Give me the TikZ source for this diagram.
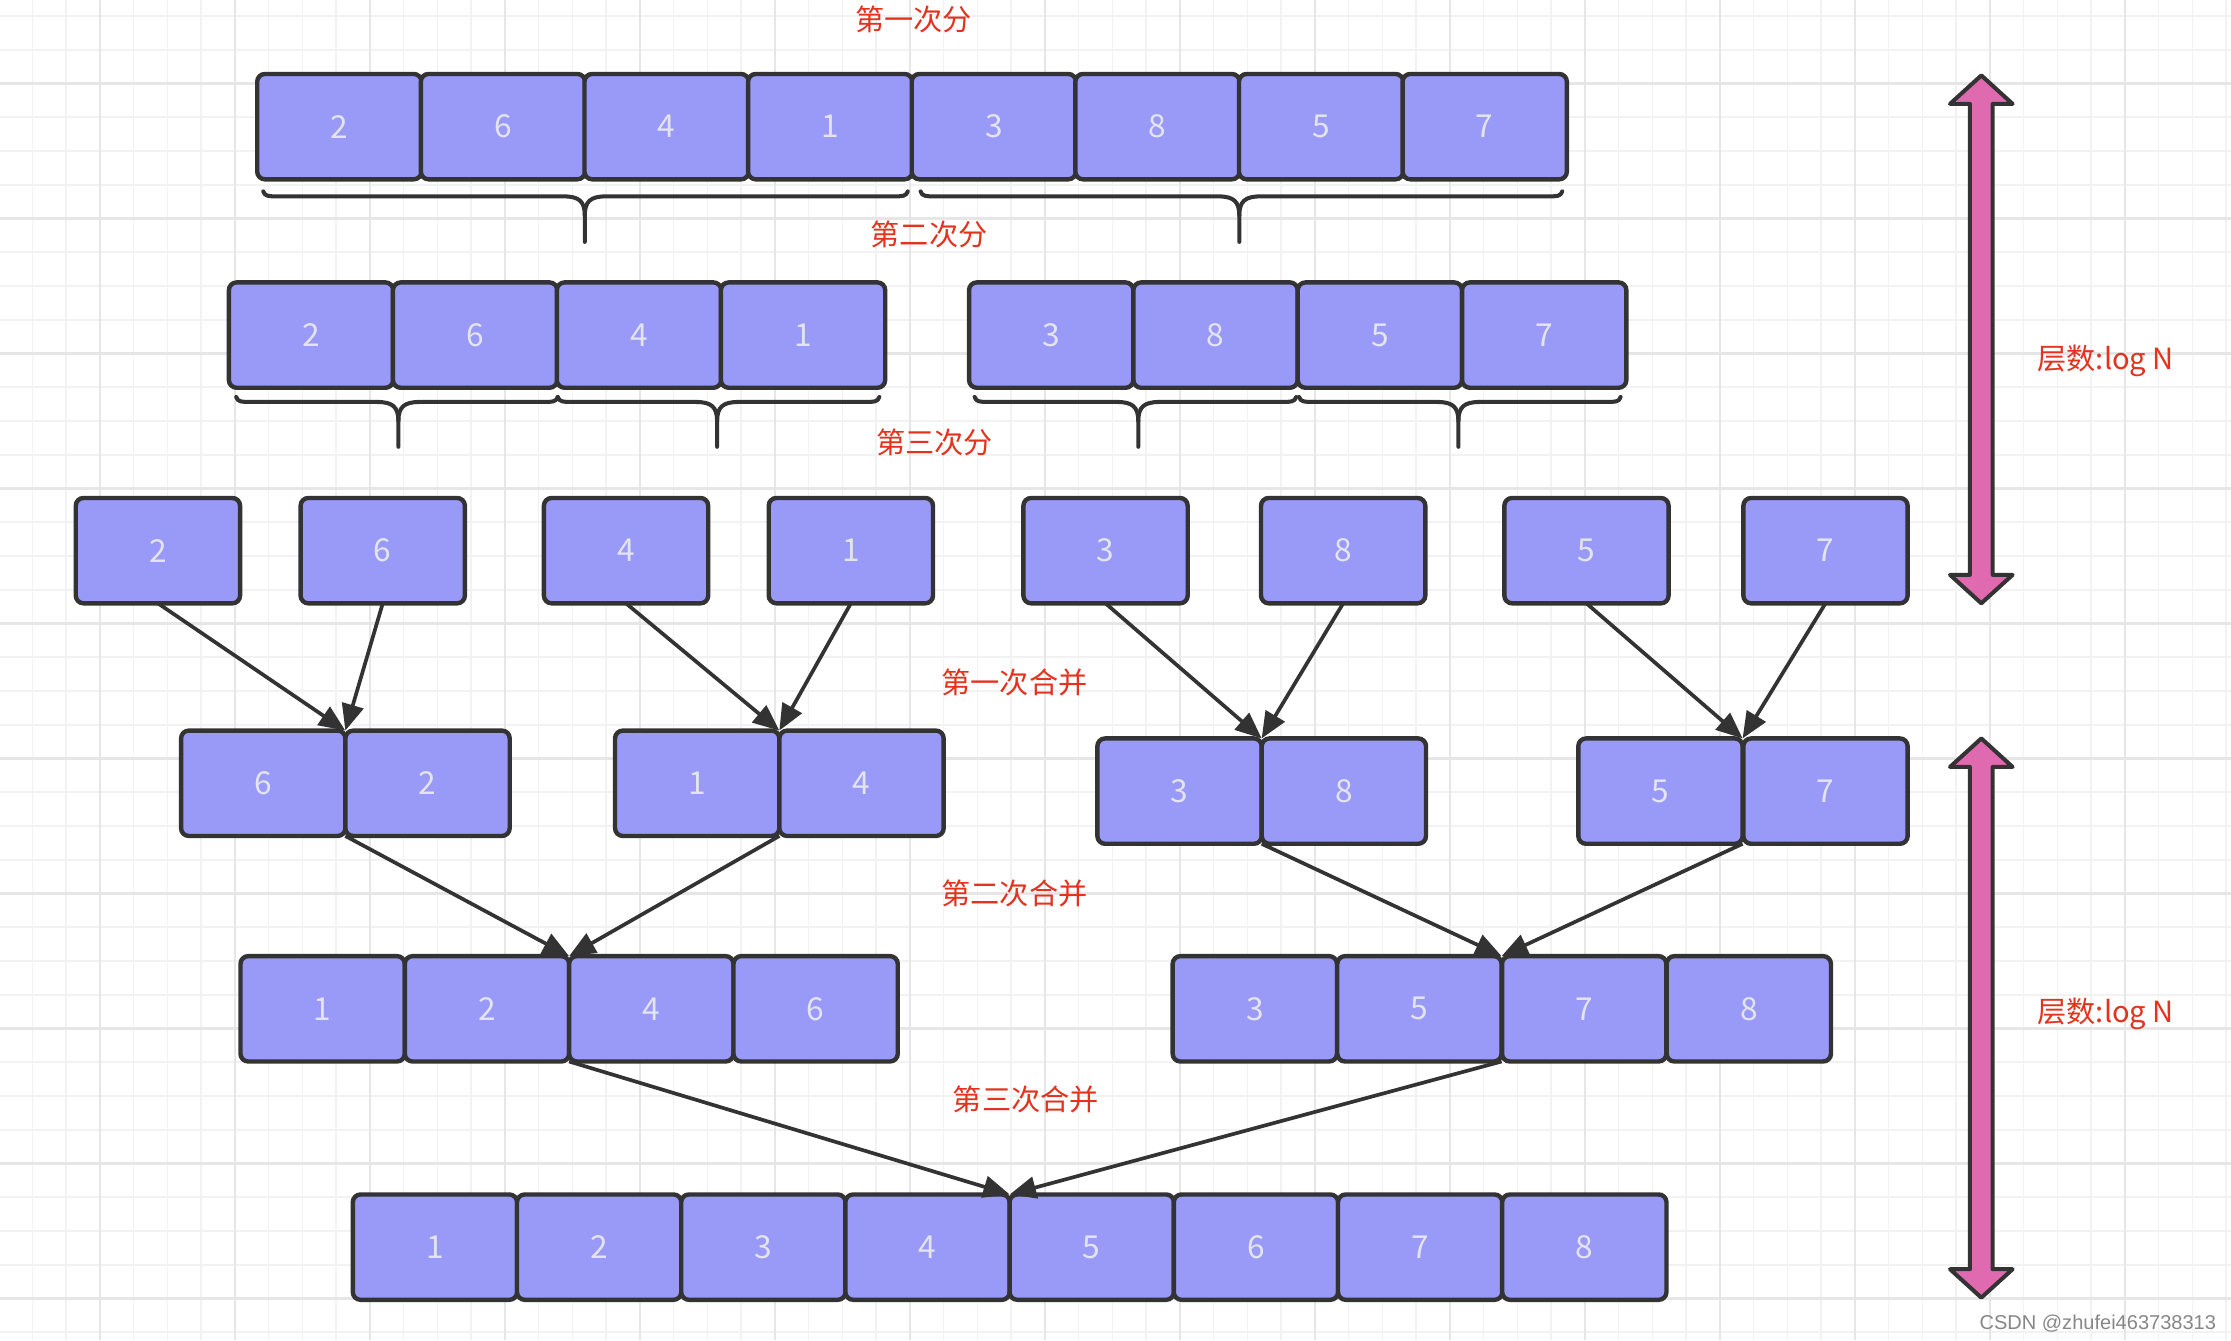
\documentclass[tikz,border=0pt]{standalone}
\usepackage{fontspec}
\setmainfont{Noto Sans CJK SC}
\newfontfamily\wmfont{Liberation Sans}
\usetikzlibrary{arrows.meta}
\definecolor{cellfill}{RGB}{153,153,248}
\definecolor{celltext}{RGB}{228,228,236}
\definecolor{ink}{RGB}{51,51,51}
\definecolor{labred}{RGB}{228,50,30}
\definecolor{pinkarrow}{RGB}{224,106,176}
\definecolor{gridminor}{RGB}{242,242,242}
\definecolor{gridmajor}{RGB}{230,230,230}
\definecolor{wmgray}{RGB}{135,135,135}
\newcommand\mybrace[5]{%
  \draw[bracestyle] (#1,#4) .. controls (#1+1,#4+3.5) and (#1+4,#4+3.5) .. (#1+10,#4+3.5)
     -- (#3-15,#4+3.5) .. controls (#3-4,#4+3.5) and (#3,#4+7) .. (#3,#4+17) -- (#3,#5);
  \draw[bracestyle] (#2,#4) .. controls (#2-1,#4+3.5) and (#2-4,#4+3.5) .. (#2-10,#4+3.5)
     -- (#3+15,#4+3.5) .. controls (#3+4,#4+3.5) and (#3,#4+7) .. (#3,#4+17);
}
\newcommand\dblarrow[3]{%
  \draw[dblstyle] (#1,#2) -- (#1+22,#2+20) -- (#1+8,#2+20) -- (#1+8,#3-20) -- (#1+22,#3-20)
    -- (#1,#3) -- (#1-22,#3-20) -- (#1-8,#3-20) -- (#1-8,#2+20) -- (#1-22,#2+20) -- cycle;
}
\begin{document}
\begin{tikzpicture}[x=0.014228cm, y=-0.014228cm,
  cell/.style={draw=ink, fill=cellfill, line width=1.25pt, rounded corners=2.2pt,
    minimum width=1.642cm, minimum height=1.053cm, inner sep=0pt, outer sep=0pt,
    text=celltext, font=\fontsize{9}{10}\selectfont},
  lab/.style={text=labred, font=\fontsize{8.3}{10}\selectfont, inner sep=0pt,
    text height=6.6pt, text depth=1.2pt},
  merge/.style={draw=ink, line width=1.05pt, -{Triangle[length=7.5pt,width=6.2pt]}},
  bracestyle/.style={draw=ink, line width=1.15pt, line cap=round, line join=round},
  dblstyle/.style={draw=ink, fill=pinkarrow, line width=1.15pt, line join=round}
]
\useasboundingbox (0,0) rectangle (1568,942);
\fill[white] (0,0) rectangle (1568,942);
% grid
\foreach \i in {0,...,65} \draw[gridminor, line width=0.45pt] ({22.7+23.72*\i},0) -- ({22.7+23.72*\i},942);
\foreach \i in {0,...,39} \draw[gridminor, line width=0.45pt] (0,{11.25+23.72*\i}) -- (1568,{11.25+23.72*\i});
\foreach \i in {0,...,15} \draw[gridmajor, line width=0.6pt] ({70.14+94.88*\i},0) -- ({70.14+94.88*\i},942);
\foreach \i in {0,...,9} \draw[gridmajor, line width=0.6pt] (0,{58.7+94.88*\i}) -- (1568,{58.7+94.88*\i});

% row 1
\node[cell] (a1) at (238.5,89) {2};
\node[cell] (a2) at (353.5,89) {6};
\node[cell] (a3) at (468.5,89) {4};
\node[cell] (a4) at (583.5,89) {1};
\node[cell] (a5) at (698.5,89) {3};
\node[cell] (a6) at (813.5,89) {8};
\node[cell] (a7) at (928.5,89) {5};
\node[cell] (a8) at (1043.5,89) {7};
\mybrace{185}{638}{411}{134.5}{170}
\mybrace{647}{1098}{871}{134.5}{170}

% row 2
\node[cell] (b1) at (218.6,235.5) {2};
\node[cell] (b2) at (333.9,235.5) {6};
\node[cell] (b3) at (449.1,235.5) {4};
\node[cell] (b4) at (564.4,235.5) {1};
\node[cell] (b5) at (738.8,235.5) {3};
\node[cell] (b6) at (854.3,235.5) {8};
\node[cell] (b7) at (969.8,235.5) {5};
\node[cell] (b8) at (1085.3,235.5) {7};
\mybrace{166}{392}{280}{279}{314}
\mybrace{392}{618}{504}{279}{314}
\mybrace{685}{911}{800}{279}{314}
\mybrace{913}{1139}{1025}{279}{314}

% row 3
\node[cell] (c1) at (111,387) {2};
\node[cell] (c2) at (269,387) {6};
\node[cell] (c3) at (440,387) {4};
\node[cell] (c4) at (598,387) {1};
\node[cell] (c5) at (777,387) {3};
\node[cell] (c6) at (944,387) {8};
\node[cell] (c7) at (1115,387) {5};
\node[cell] (c8) at (1283,387) {7};

% row 4
\node[cell] (d1) at (185,550.5) {6};
\node[cell] (d2) at (300.5,550.5) {2};
\node[cell] (d3) at (490,550.5) {1};
\node[cell] (d4) at (605.5,550.5) {4};
\node[cell] (d5) at (829,556) {3};
\node[cell] (d6) at (944.5,556) {8};
\node[cell] (d7) at (1167,556) {5};
\node[cell] (d8) at (1283,556) {7};

% row 5
\node[cell] (e1) at (226.75,709) {1};
\node[cell] (e2) at (342.25,709) {2};
\node[cell] (e3) at (457.75,709) {4};
\node[cell] (e4) at (573.25,709) {6};
\node[cell] (e5) at (881.9,709) {3};
\node[cell] (e6) at (997.6,709) {5};
\node[cell] (e7) at (1113.4,709) {7};
\node[cell] (e8) at (1229.1,709) {8};

% row 6
\node[cell] (f1) at (305.7,876.5) {1};
\node[cell] (f2) at (421.1,876.5) {2};
\node[cell] (f3) at (536.5,876.5) {3};
\node[cell] (f4) at (651.9,876.5) {4};
\node[cell] (f5) at (767.3,876.5) {5};
\node[cell] (f6) at (882.7,876.5) {6};
\node[cell] (f7) at (998.1,876.5) {7};
\node[cell] (f8) at (1113.5,876.5) {8};

% merge arrows
\draw[merge] (c1.south) -- (d1.north east);
\draw[merge] (c2.south) -- (d1.north east);
\draw[merge] (c3.south) -- (d3.north east);
\draw[merge] (c4.south) -- (d3.north east);
\draw[merge] (c5.south) -- (d5.north east);
\draw[merge] (c6.south) -- (d5.north east);
\draw[merge] (c7.south) -- (d7.north east);
\draw[merge] (c8.south) -- (d7.north east);
\draw[merge] (d1.south east) -- (e2.north east);
\draw[merge] (d3.south east) -- (e2.north east);
\draw[merge] (d5.south east) -- (e6.north east);
\draw[merge] (d7.south east) -- (e6.north east);
\draw[merge] (e2.south east) -- (f4.north east);
\draw[merge] (e6.south east) -- (f4.north east);

% labels
\node[lab] (l1) at (642,15) {第一次分};
\node[lab] (l2) at (653,166) {第二次分};
\node[lab] (l3) at (657,312) {第三次分};
\node[lab] (l4) at (713,481) {第一次合并};
\node[lab] (l5) at (713,629) {第二次合并};
\node[lab] (l6) at (721,774) {第三次合并};
\node[lab] (l7) at (1480,253) {层数:log N};
\node[lab] (l8) at (1480,712) {层数:log N};

% level arrows
\dblarrow{1392.5}{53}{424}
\dblarrow{1392.5}{519}{912}

% watermark
\node[anchor=east, inner sep=0pt, text=wmgray, font=\wmfont\fontsize{5.7}{6}\selectfont] (wm) at (1558,930) {CSDN @zhufei463738313};
\end{tikzpicture}
\end{document}
